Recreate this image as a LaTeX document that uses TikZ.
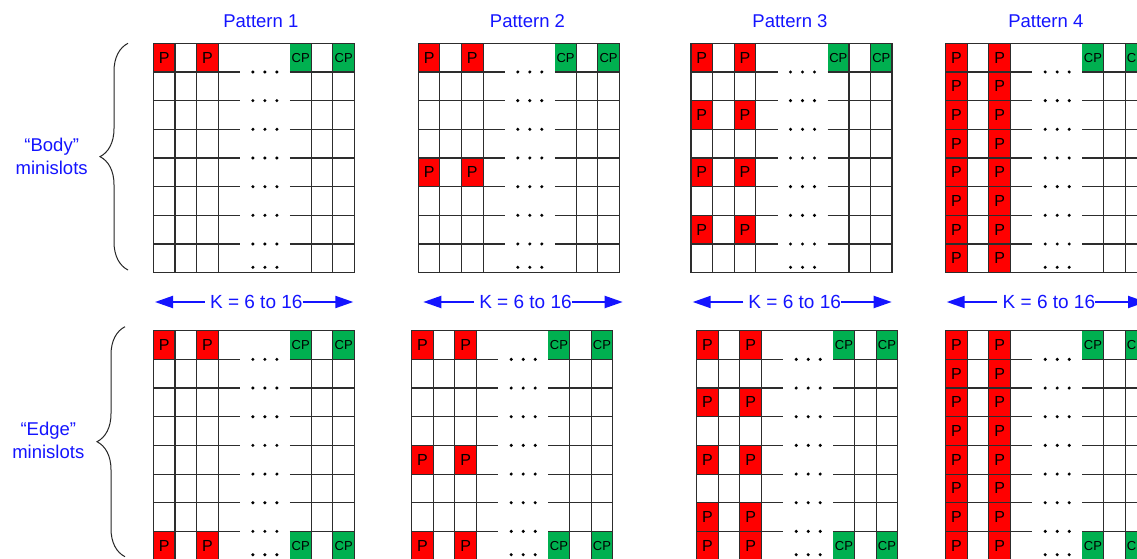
\documentclass[tikz,border=0pt]{standalone}
\usepackage{fontspec}
\setmainfont{Liberation Sans}
\usetikzlibrary{arrows.meta,decorations.pathreplacing,calc}
\definecolor{pred}{RGB}{255,0,0}
\definecolor{cpgreen}{RGB}{0,176,80}
\definecolor{lblue}{RGB}{20,20,255}
\definecolor{gline}{RGB}{45,45,45}
\tikzset{
  gridline/.style={draw=gline,line width=1.1pt},
  pcell/.style={fill=pred,inner sep=0pt,minimum width=21.6pt,minimum height=28.67pt,
    font=\fontsize{16}{18}\selectfont,text=black},
  cpcell/.style={fill=cpgreen,inner sep=0pt,minimum width=21.6pt,minimum height=28.67pt,
    font=\fontsize{13}{15}\selectfont,text=black},
  title/.style={text=lblue,font=\fontsize{18.5}{22}\selectfont,inner sep=0pt},
  sidelabel/.style={text=lblue,font=\fontsize{18.5}{23}\selectfont,align=center,inner sep=0pt},
  klabel/.style={text=lblue,font=\fontsize{19}{22}\selectfont,inner sep=0pt},
  karrow/.style={draw=lblue,line width=2pt,-{Triangle[length=18pt,width=12pt]}},
  bracestyle/.style={draw=black!85,line width=1pt,decorate,decoration={brace,amplitude=28pt}},
  dotmark/.style={fill=black}
}
\newcommand{\slotgrid}[5]{%
  \begin{scope}[shift={(#1,#2)}]
    \foreach \r in {#4} {
      \node[pcell] (#3-pa-\r) at (10.8,{(\r-0.5)*28.67}) {P};
      \node[pcell] (#3-pb-\r) at (54,{(\r-0.5)*28.67}) {P};
    }
    \foreach \r in {#5} {
      \node[cpcell] (#3-ca-\r) at (147.3,{(\r-0.5)*28.67}) {CP};
      \node[cpcell] (#3-cb-\r) at (190.3,{(\r-0.5)*28.67}) {CP};
    }
    \draw[gridline] (0,0) rectangle (201,229.36);
    \foreach \c in {21.6,43.2,64.8,158,179.5}
      \draw[gridline] (\c,0) -- (\c,229.36);
    \foreach \k in {1,...,7} {
      \draw[gridline] (0,{\k*28.67}) -- (86.5,{\k*28.67});
      \draw[gridline] (136.5,{\k*28.67}) -- (201,{\k*28.67});
      \foreach \d in {99.5,111.5,123.5}
        \fill[dotmark] (\d,{\k*28.67}) circle (1.7pt);
    }
    \foreach \d in {99.5,111.5,123.5}
      \fill[dotmark] (\d,224) circle (1.7pt);
  \end{scope}}
\begin{document}
\begin{tikzpicture}[x=1pt,y=-1pt]
\clip (0,0) rectangle (1137,559);
\fill[white] (0,0) rectangle (1137,559);
% titles
\node[title] (t1) at (260.8,21) {Pattern 1};
\node[title] (t2) at (527.5,21) {Pattern 2};
\node[title] (t3) at (790,21) {Pattern 3};
\node[title] (t4) at (1045.8,21) {Pattern 4};
% top grids (body)
\slotgrid{153.4}{43.3}{ba}{1}{1}
\slotgrid{418.3}{43.3}{bb}{1,5}{1}
\slotgrid{691}{43.3}{bc}{1,3,5,7}{1}
\slotgrid{945.7}{43.3}{bd}{1,2,3,4,5,6,7,8}{1}
% bottom grids (edge)
\slotgrid{153.4}{330.7}{ea}{1,8}{1,8}
\slotgrid{411.7}{330.7}{eb}{1,5,8}{1,8}
\slotgrid{696.7}{330.7}{ec}{1,3,5,7,8}{1,8}
\slotgrid{945.7}{330.7}{ed}{1,2,3,4,5,6,7,8}{1,8}
% K arrows
\node[klabel] (k1) at (256.3,302) {K = 6 to 16};
\coordinate (k1l) at (155,302); \coordinate (k1r) at (353.3,302);
\node[klabel] (k2) at (525.5,302) {K = 6 to 16};
\coordinate (k2l) at (423.3,302); \coordinate (k2r) at (622.7,302);
\node[klabel] (k3) at (794.7,302) {K = 6 to 16};
\coordinate (k3l) at (692.7,302); \coordinate (k3r) at (891.7,302);
\node[klabel] (k4) at (1048.9,302) {K = 6 to 16};
\coordinate (k4l) at (946.7,302); \coordinate (k4r) at (1146,302);
\foreach \i in {1,2,3,4} {
  \draw[karrow,shorten <=5pt] (k\i.west) -- (k\i l);
  \draw[karrow] (k\i.east) -- (k\i r);
}
% braces and side labels
\coordinate (bt) at (128,43.3); \coordinate (bb) at (128,270);
\draw[bracestyle] (bb) -- (bt);
\coordinate (et) at (125,326.7); \coordinate (eb) at (125,556.7);
\draw[bracestyle] (eb) -- (et);
\node[sidelabel] (body) at (51.7,156.7) {“Body”\\minislots};
\node[sidelabel] (edge) at (48.3,440) {“Edge”\\minislots};
\end{tikzpicture}
\end{document}
